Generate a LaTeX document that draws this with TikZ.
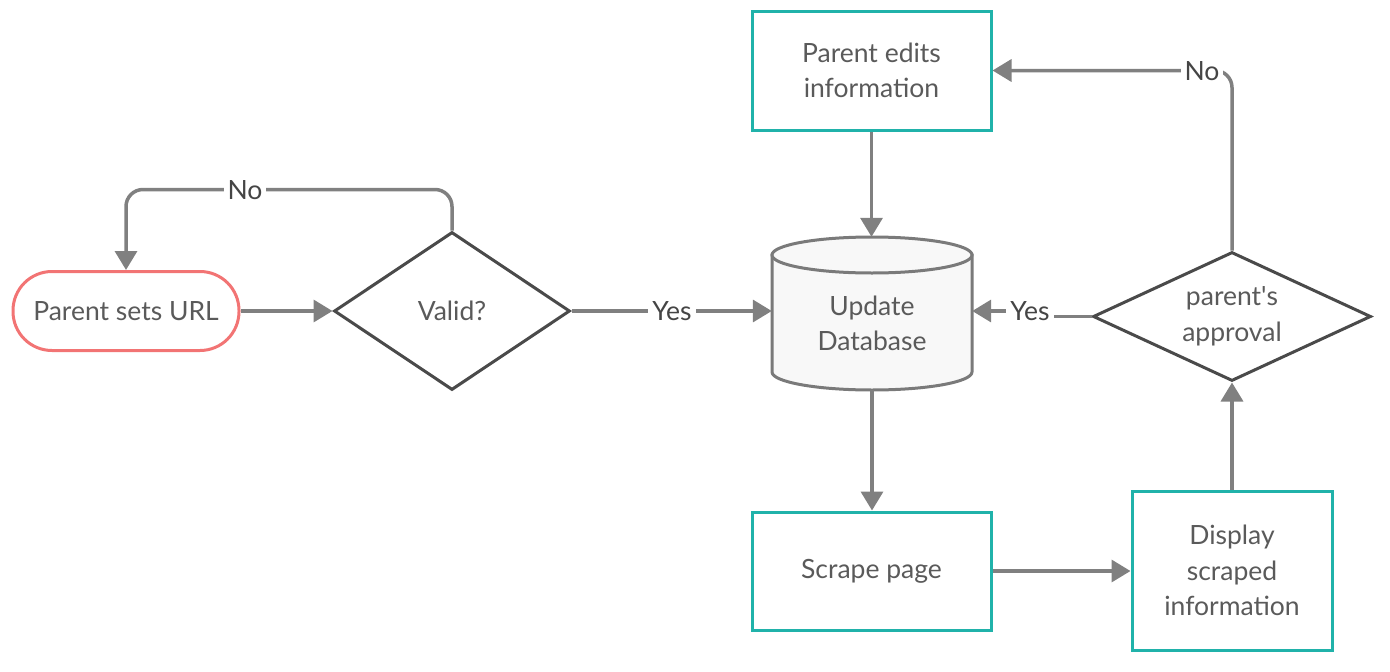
\documentclass[tikz,border=0pt]{standalone}
\usepackage{fontspec}
\setmainfont{Lato}
\usetikzlibrary{shapes.geometric,arrows.meta}
\definecolor{linegray}{HTML}{808080}
\definecolor{shapegray}{HTML}{4A4A4A}
\definecolor{cylgray}{HTML}{7A7A7A}
\definecolor{cylfill}{HTML}{F8F8F8}
\definecolor{teal}{HTML}{20B2AA}
\definecolor{salmon}{HTML}{F27474}
\definecolor{txtgray}{HTML}{5A5A5A}
\definecolor{lblgray}{HTML}{454545}
\begin{document}
\begin{tikzpicture}[x=1pt,y=-1pt,
  every node/.style={font=\fontsize{26.5}{35.5}\selectfont, text=txtgray, align=center},
  procbox/.style={draw=teal, line width=3pt, rectangle, inner sep=0pt},
  decision/.style={draw=shapegray, line width=3pt, diamond, inner sep=0pt},
  startbox/.style={draw=salmon, line width=3pt, rectangle, rounded corners=39pt, minimum width=226pt, minimum height=79pt, inner sep=0pt},
  arr/.style={draw=linegray, line width=3.5pt, -{Triangle[length=19pt,width=22pt]}},
  lbl/.style={fill=white, text=lblgray, inner sep=4pt}
]
\useasboundingbox (0,0) rectangle (1390,672);

% nodes
\node[startbox] (psu) at (126,311) {Parent sets URL};
\node[decision, minimum width=236pt, minimum height=158pt, aspect=1.49] (valid) at (452,311) {Valid?};
\node[procbox, minimum width=239pt, minimum height=119pt] (pe) at (871.5,70.5) {Parent edits\\information};
\node[procbox, minimum width=239pt, minimum height=118pt] (sp) at (871.5,571) {Scrape page};
\node[procbox, minimum width=200pt, minimum height=159pt] (disp) at (1232,570.5) {Display\\scraped\\information};
\node[decision, minimum width=278pt, minimum height=129pt, aspect=2.14] (appr) at (1232,316.5) {parent\textquotesingle s\\approval};

% cylinder
\node[minimum width=200pt, minimum height=153pt, inner sep=0pt] (db) at (872,313.5) {};
\draw[draw=cylgray, fill=cylfill, line width=3pt]
  (772,255) -- (772,372) arc[start angle=180, end angle=0, x radius=100, y radius=18]
  -- (972,255) -- cycle;
\draw[draw=cylgray, fill=cylfill, line width=3pt]
  (872,255) ellipse[x radius=100, y radius=18];
\node at (872,323.5) {Update\\Database};

% connectors
\draw[arr] (psu.east) -- (valid.west);
\draw[arr, rounded corners=17pt] (valid.north) -- ++(0,-41) -| (psu.north);
\node[lbl] (no1) at (245,190) {No};
\draw[arr] (valid.east) -- (valid.east -| db.west);
\node[lbl] (yes1) at (672,311) {Yes};
\draw[arr] (appr.west) -- (1040,316.5) -- (1040,311) -- (1040,311 -| db.east);
\node[lbl] (yes2) at (1030,311) {Yes};
\draw[arr] (pe.south) -- (pe.south |- db.north);
\draw[arr] (db.south) -- (db.south |- sp.north);
\draw[arr] (sp.east) -- (sp.east -| disp.west);
\draw[arr] (disp.north) -- (appr.south);
\draw[arr, rounded corners=17pt] (appr.north) |- (pe.east);
\node[lbl] (no2) at (1202,71) {No};
\end{tikzpicture}
\end{document}
